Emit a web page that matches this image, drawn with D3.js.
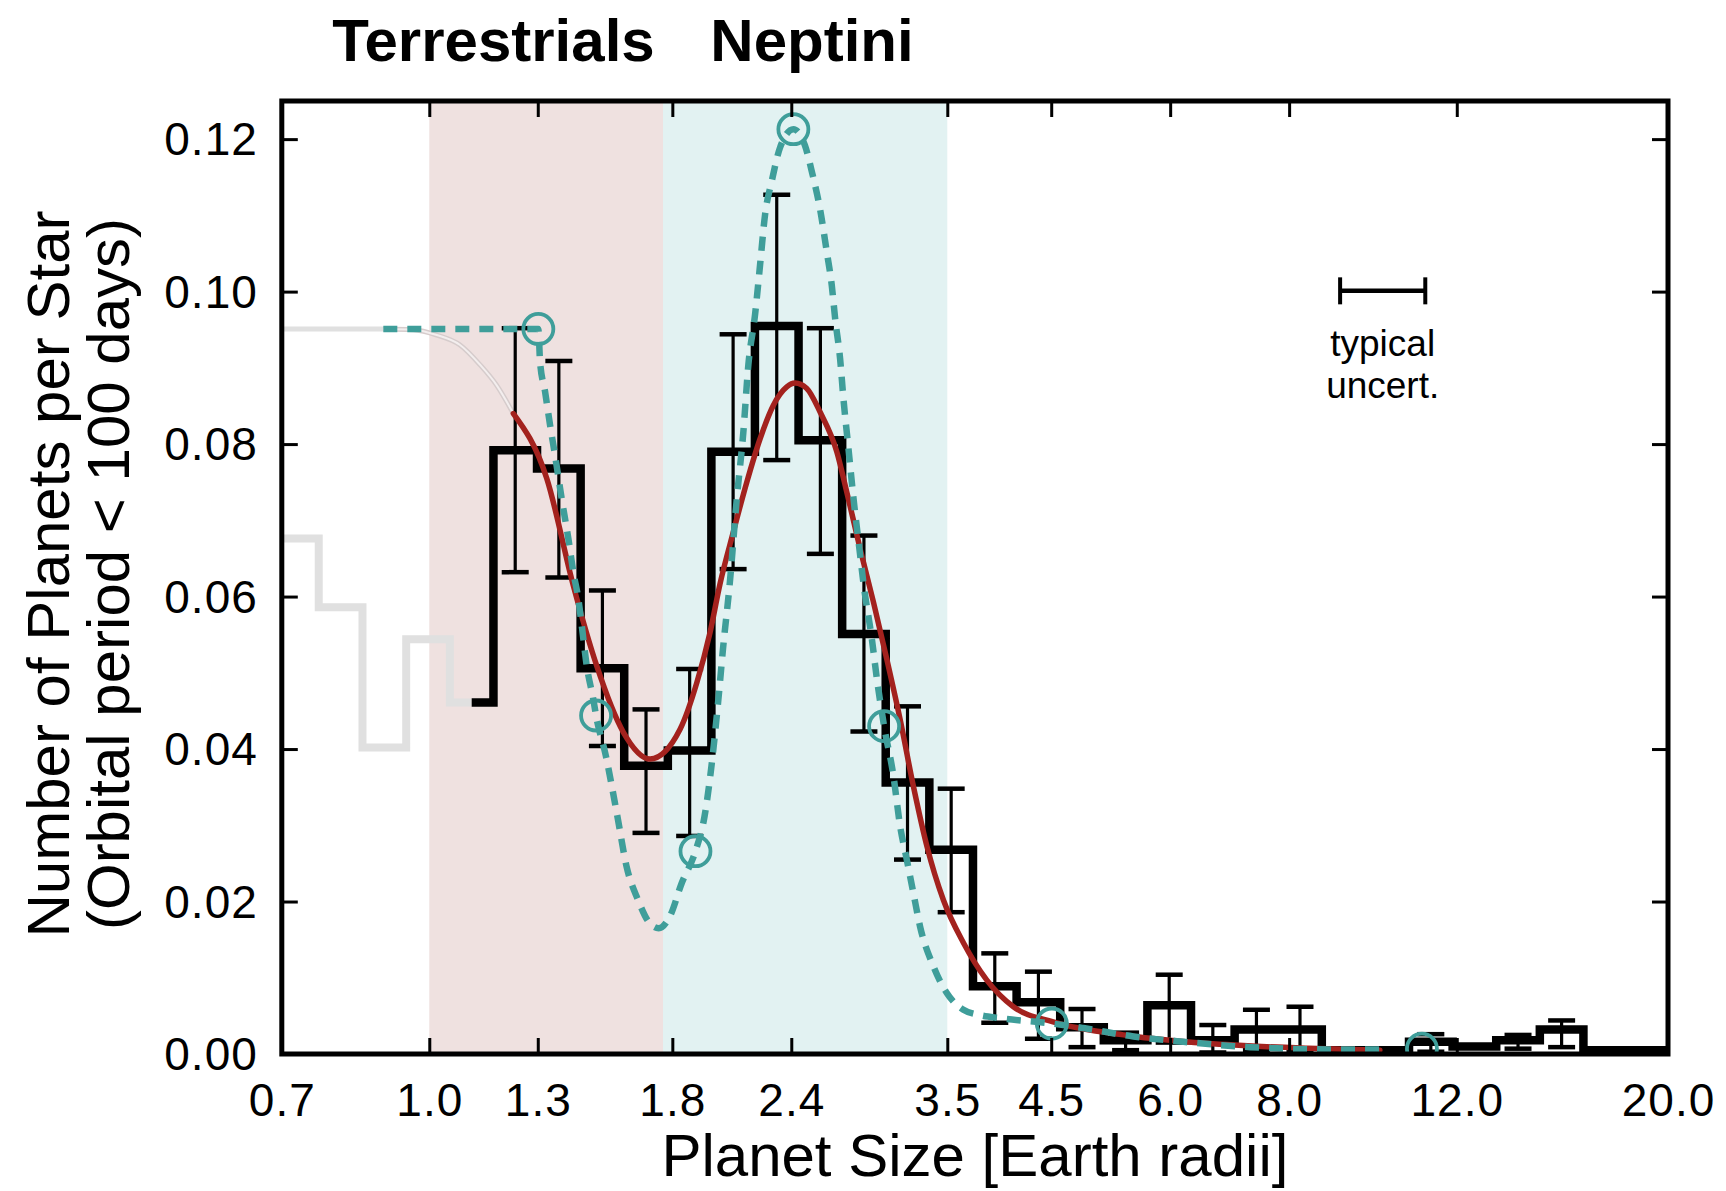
<!DOCTYPE html>
<html>
<head>
<meta charset="utf-8">
<script src="https://cdn.jsdelivr.net/npm/d3@7"></script>
<style>
  html, body { margin: 0; padding: 0; background: #fff; }
  svg { display: block; }
  text { font-family: "Liberation Sans", Arial, Helvetica, sans-serif; fill: #000; }
</style>
</head>
<body>
<svg id="chart" width="1726" height="1191"></svg>
<script>
// ---- size classes (shaded bands) ----
const classNames  = ["Terrestrials", "Neptini"];
const classLow    = [1.0, 1.76];
const classHigh   = [1.76, 3.5];

// ---- axis ticks ----
const radiusTicks = [0.7, 1.0, 1.3, 1.8, 2.4, 3.5, 4.5, 6.0, 8.0, 12.0, 20.0];
const rateTicks   = [0.00, 0.02, 0.04, 0.06, 0.08, 0.10, 0.12];

// ---- low-completeness histogram (grey), bin centres in Earth radii ----
const lowBinRadius = [0.654, 0.726, 0.807, 0.897, 0.997, 1.108];
const lowBinRate   = [0.0676, 0.0676, 0.0586, 0.0402, 0.0544, 0.0461];

// ---- completeness-corrected histogram (black), bin centres ----
const binRadius = [1.108, 1.231, 1.368, 1.520, 1.689, 1.877, 2.085, 2.317, 2.575, 2.861,
                   3.179, 3.533, 3.926, 4.363, 4.848, 5.387, 5.986, 6.652, 7.392, 8.213,
                   9.127, 10.142, 11.270, 12.523, 13.916, 15.463, 17.183, 19.094, 21.218];
const binRate   = [0.0461, 0.0792, 0.0768, 0.0506, 0.0378, 0.0398, 0.0790, 0.0955, 0.0805, 0.0551,
                   0.0356, 0.0268, 0.0089, 0.0068, 0.0035, 0.0018, 0.0064, 0.0018, 0.0032, 0.0032,
                   0.0005, 0.0005, 0.0016, 0.0010, 0.0018, 0.0032, 0.0005, 0.0005, 0.0005];
const binErrLow  = [null, 0.0632, 0.0625, 0.0404, 0.0290, 0.0286, 0.0636, 0.0779, 0.0656, 0.0423,
                    0.0255, 0.0186, 0.0041, 0.0020, 0.0009, 0.0005, 0.0015, 0.0002, 0.0005, 0.0005,
                    null, null, 0.0003, null, 0.0007, 0.0009, null, null, null];
const binErrHigh = [null, 0.0952, 0.0909, 0.0608, 0.0452, 0.0505, 0.0944, 0.1127, 0.0952, 0.0680,
                    0.0456, 0.0348, 0.0132, 0.0108, 0.0059, 0.0028, 0.0104, 0.0038, 0.0058, 0.0062,
                    null, null, 0.0026, null, 0.0025, 0.0044, null, null, null];

// ---- smooth occurrence model (red), plus its low-radius extension (grey) ----
const modelRadius = [1.2255, 1.3285, 1.4169, 1.4993, 1.5990, 1.7056, 1.8340, 1.9097, 1.9720, 2.0203,
                     2.0864, 2.1551, 2.2256, 2.2983, 2.3740, 2.4221, 2.4916, 2.5731, 2.6792, 2.7448,
                     2.8344, 2.9272, 3.0236, 3.1225, 3.2247, 3.3309, 3.4671, 3.6390, 3.8509, 4.1070,
                     4.5208, 5.4407, 6.5463, 8.377, 9.962];
const modelRate   = [0.0840, 0.0755, 0.0614, 0.0509, 0.0422, 0.0387, 0.0426, 0.0487, 0.0553, 0.0617,
                     0.0685, 0.0750, 0.0807, 0.0851, 0.0875, 0.0880, 0.0873, 0.0842, 0.0790, 0.0737,
                     0.0663, 0.0593, 0.0518, 0.0439, 0.0351, 0.0273, 0.0202, 0.0146, 0.0097, 0.0062,
                     0.0042, 0.0024, 0.0014, 0.00075, 0.0005];
const flatRadius  = [0.7, 0.8948];
const flatRate    = [0.0951, 0.0951];
const extRadius   = [0.8948, 0.9622, 1.0182, 1.0772, 1.1306, 1.1772, 1.2255];
const extRate     = [0.0951, 0.0950, 0.0943, 0.0930, 0.0904, 0.0877, 0.0840];

// ---- spline model through knots (teal, dashed) ----
const splineRadius = [0.8948, 1.3018, 1.3072, 1.3231, 1.3392, 1.3555, 1.3776, 1.3998, 1.4168, 1.4340,
                      1.4459, 1.4635, 1.4870, 1.4968, 1.5327, 1.5759, 1.6114, 1.6568, 1.7031, 1.7414,
                      1.7901, 1.8411, 1.9036, 1.9460, 1.9788, 2.0120, 2.0345, 2.0688, 2.1036, 2.1374,
                      2.1634, 2.1988, 2.2255, 2.2526, 2.2894, 2.3358, 2.4122, 2.4800, 2.5250, 2.5731,
                      2.6152, 2.6470, 2.6683, 2.7007, 2.7224, 2.7555, 2.7890, 2.8346, 2.8573, 2.9159,
                      2.9514, 3.0040, 3.0724, 3.1225, 3.1735, 3.2246, 3.2773, 3.3844, 3.4959, 3.6392,
                      3.7892, 3.9770, 4.5064, 4.8643, 5.4900, 6.1958, 7.280, 8.907, 10.05];
const splineRate   = [0.0951, 0.0951, 0.0908, 0.0869, 0.0825, 0.0785, 0.0728, 0.0676, 0.0632, 0.0597,
                      0.0562, 0.0509, 0.0465, 0.0444, 0.0391, 0.0312, 0.0246, 0.0202, 0.0172, 0.0165,
                      0.0181, 0.0224, 0.0266, 0.0312, 0.0378, 0.0465, 0.0531, 0.0619, 0.0728, 0.0816,
                      0.0904, 0.0970, 0.1035, 0.1101, 0.1145, 0.1189, 0.1213, 0.1192, 0.1155, 0.1108,
                      0.1052, 0.1008, 0.0965, 0.0912, 0.0860, 0.0795, 0.0730, 0.0655, 0.0618, 0.0545,
                      0.0493, 0.0430, 0.0365, 0.0299, 0.0255, 0.0211, 0.0167, 0.0115, 0.0080, 0.0058,
                      0.0051, 0.0047, 0.0040, 0.0034, 0.0023, 0.0016, 0.0009, 0.0006, 0.0006];
const knotRadius = [1.3018, 1.4968, 1.9036, 2.4122, 3.0040, 4.5064, 11.03];
const knotRate   = [0.0951, 0.0444, 0.0266, 0.1213, 0.0430, 0.0040, 0.0007];

// ---- typical uncertainty marker ----
const uncertRadius = [9.05, 11.12];
const uncertRate   = 0.1001;

// ---------------------------------------------------------------
const svg = d3.select("#chart");
const x = d3.scaleLog().domain([0.7, 20]).range([281.8, 1668]);
const y = d3.scaleLinear().domain([0, 0.125]).range([1054, 101]);
const [x0, x1] = x.range();
const [yb, yt] = y.range();

const colors = {
  bands: ["#efe1e0", "#e2f2f2"],
  lowHist: "#e0e0e0",
  hist: "#000",
  model: "#a3221e",
  spline: "#3f9e9a"
};

const zip = (a, b) => a.map((v, i) => [v, b[i]]);

svg.append("defs").append("clipPath").attr("id", "plot-clip")
  .append("rect").attr("x", x0).attr("y", yt).attr("width", x1 - x0).attr("height", yb - yt);

const plot = svg.append("g").attr("clip-path", "url(#plot-clip)");

// shaded size-class bands
plot.selectAll("rect.band").data(classNames).join("rect")
  .attr("class", "band")
  .attr("x", (d, i) => x(classLow[i]))
  .attr("width", (d, i) => x(classHigh[i]) - x(classLow[i]))
  .attr("y", yt).attr("height", yb - yt)
  .attr("fill", (d, i) => colors.bands[i]);

const stepLine = d3.line().curve(d3.curveStep).x(d => x(d[0])).y(d => y(d[1]));
const smoothLine = d3.line().curve(d3.curveMonotoneX).x(d => x(d[0])).y(d => y(d[1]));

// grey low-completeness histogram
plot.append("path").datum(zip(lowBinRadius, lowBinRate))
  .attr("d", stepLine).attr("fill", "none")
  .attr("stroke", colors.lowHist).attr("stroke-width", 8);

// grey extension of the smooth model
plot.append("path").datum(zip(flatRadius, flatRate))
  .attr("d", smoothLine).attr("fill", "none")
  .attr("stroke", "#e0e0e0").attr("stroke-width", 5);
plot.append("path").datum(zip(extRadius, extRate))
  .attr("d", smoothLine).attr("fill", "none")
  .attr("stroke", "#d6cccc").attr("stroke-width", 5);
plot.append("path").datum(zip(extRadius, extRate))
  .attr("d", smoothLine).attr("fill", "none")
  .attr("stroke", "#f3eeee").attr("stroke-width", 2);

// black histogram
plot.append("path").datum(zip(binRadius, binRate))
  .attr("d", stepLine).attr("fill", "none")
  .attr("stroke", colors.hist).attr("stroke-width", 8.5)
  .attr("stroke-linejoin", "miter");

// error bars
const errData = binRadius.map((r, i) => ({ r, lo: binErrLow[i], hi: binErrHigh[i] }))
  .filter(d => d.lo !== null);
const capHalf = 13.5;
const eb = plot.append("g").selectAll("g").data(errData).join("g");
eb.append("line")
  .attr("x1", d => x(d.r)).attr("x2", d => x(d.r))
  .attr("y1", d => y(d.lo)).attr("y2", d => y(d.hi))
  .attr("stroke", "#000").attr("stroke-width", 3.2);
["lo", "hi"].forEach(k => {
  eb.append("line")
    .attr("x1", d => x(d.r) - capHalf).attr("x2", d => x(d.r) + capHalf)
    .attr("y1", d => y(d[k])).attr("y2", d => y(d[k]))
    .attr("stroke", "#000").attr("stroke-width", 4.5);
});

// smooth model (red)
plot.append("path").datum(zip(modelRadius, modelRate))
  .attr("d", smoothLine).attr("fill", "none")
  .attr("stroke", colors.model).attr("stroke-width", 5.5)
  .attr("stroke-linecap", "round");

// spline model (teal dashed) and its knots
plot.append("path").datum(zip(splineRadius, splineRate))
  .attr("d", smoothLine).attr("fill", "none")
  .attr("stroke", colors.spline).attr("stroke-width", 6.5)
  .attr("stroke-dasharray", "14,10");
plot.selectAll("circle.knot").data(zip(knotRadius, knotRate)).join("circle")
  .attr("class", "knot")
  .attr("cx", d => x(d[0])).attr("cy", d => y(d[1])).attr("r", 15)
  .attr("fill", "none").attr("stroke", colors.spline).attr("stroke-width", 3.8);

// axes: inward ticks on all four sides
const tickLen = 16;
const fmtX = d3.format(".1f"), fmtY = d3.format(".2f");
const axB = svg.append("g").attr("transform", `translate(0,${yb})`)
  .call(d3.axisBottom(x).tickValues(radiusTicks).tickFormat(fmtX).tickSize(-tickLen).tickPadding(29));
const axT = svg.append("g").attr("transform", `translate(0,${yt})`)
  .call(d3.axisTop(x).tickValues(radiusTicks).tickFormat("").tickSize(-tickLen));
const axL = svg.append("g").attr("transform", `translate(${x0},0)`)
  .call(d3.axisLeft(y).tickValues(rateTicks).tickFormat(fmtY).tickSize(-tickLen).tickPadding(24));
const axR = svg.append("g").attr("transform", `translate(${x1},0)`)
  .call(d3.axisRight(y).tickValues(rateTicks).tickFormat("").tickSize(-tickLen));
[axB, axT, axL, axR].forEach(g => {
  g.select(".domain").remove();
  g.selectAll(".tick line").attr("stroke", "#000").attr("stroke-width", 3);
  g.selectAll(".tick text")
    .attr("font-family", "'Liberation Sans', Arial, sans-serif")
    .attr("font-size", 46).attr("letter-spacing", "1px").attr("fill", "#000");
});
axL.selectAll(".tick text").attr("dy", "0.34em");

// frame
svg.append("rect").attr("x", x0).attr("y", yt).attr("width", x1 - x0).attr("height", yb - yt)
  .attr("fill", "none").attr("stroke", "#000").attr("stroke-width", 5);

// size-class titles
const titleX = [493.5, 812];
svg.selectAll("text.class-title").data(classNames).join("text")
  .attr("class", "class-title")
  .attr("x", (d, i) => titleX[i]).attr("y", 61)
  .attr("text-anchor", "middle").attr("font-weight", "bold").attr("font-size", 60)
  .text(d => d);

// axis titles
svg.append("text").attr("x", (x0 + x1) / 2).attr("y", 1176)
  .attr("text-anchor", "middle").attr("font-size", 60)
  .text("Planet Size [Earth radii]");
const yTitle = ["Number of Planets per Star", "(Orbital period < 100 days)"];
svg.selectAll("text.ytitle").data(yTitle).join("text")
  .attr("class", "ytitle")
  .attr("transform", (d, i) => `translate(${68.5 + i * 60},574) rotate(-90)`)
  .attr("text-anchor", "middle").attr("font-size", 60)
  .text(d => d);

// typical uncertainty marker
const ug = svg.append("g");
const uy = y(uncertRate);
ug.append("line").attr("x1", x(uncertRadius[0])).attr("x2", x(uncertRadius[1]))
  .attr("y1", uy).attr("y2", uy).attr("stroke", "#000").attr("stroke-width", 4.5);
uncertRadius.forEach(r => {
  ug.append("line").attr("x1", x(r)).attr("x2", x(r))
    .attr("y1", uy - 13.5).attr("y2", uy + 13.5)
    .attr("stroke", "#000").attr("stroke-width", 4);
});
const ucx = (x(uncertRadius[0]) + x(uncertRadius[1])) / 2;
ug.append("text").attr("x", ucx).attr("y", uy + 65).attr("text-anchor", "middle")
  .attr("font-size", 37).attr("fill", "#111").text("typical");
ug.append("text").attr("x", ucx).attr("y", uy + 107).attr("text-anchor", "middle")
  .attr("font-size", 37).attr("fill", "#111").text("uncert.");
</script>
</body>
</html>
